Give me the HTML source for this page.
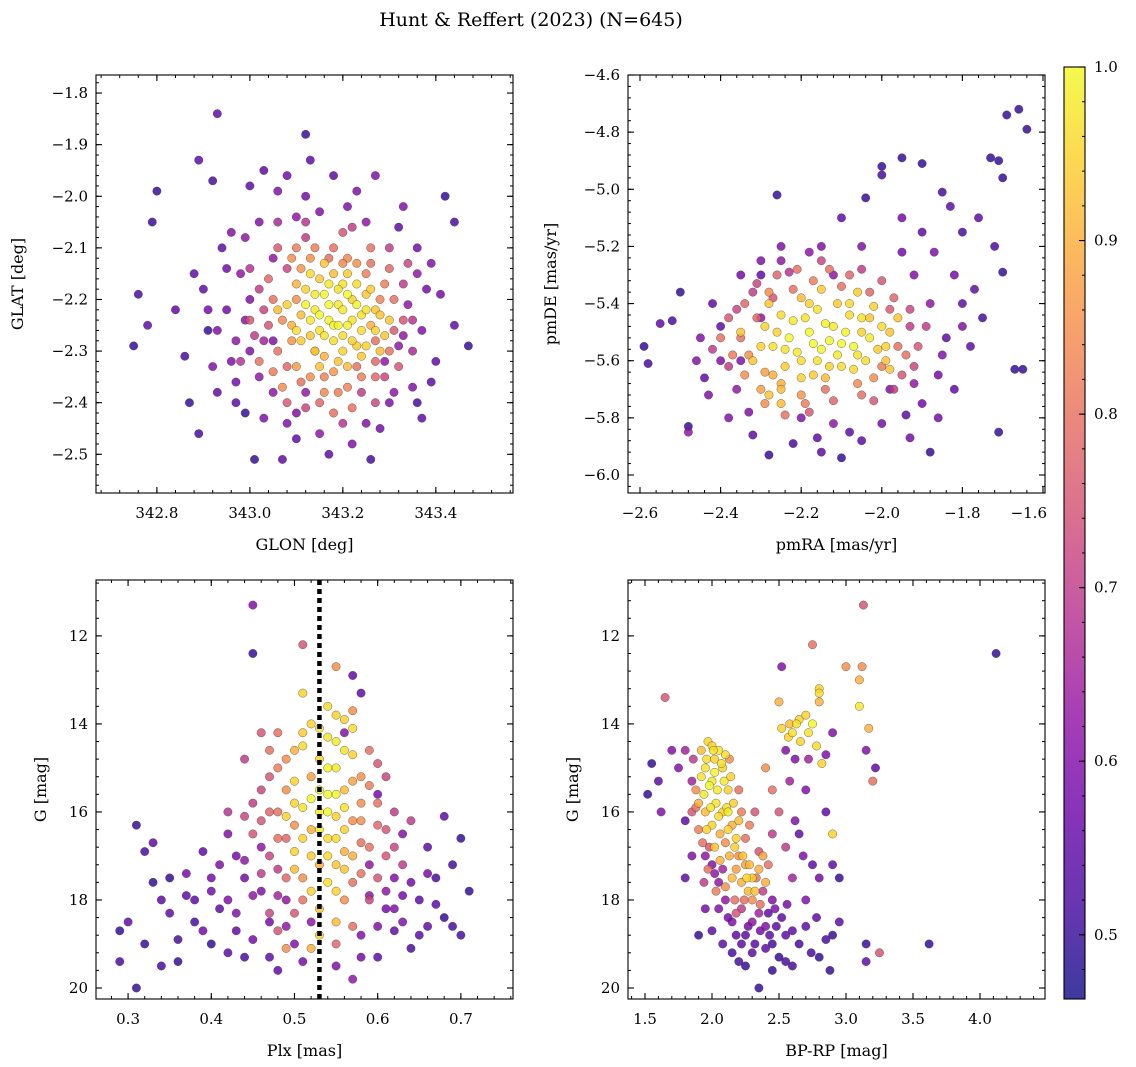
<!DOCTYPE html>
<html><head><meta charset="utf-8"><style>
html,body{margin:0;padding:0;background:#fff;}
svg{display:block;font-family:"DejaVu Serif","Liberation Serif",serif;}
</style></head><body>
<svg id="fig" width="1136" height="1067" viewBox="0 0 1136 1067" xmlns="http://www.w3.org/2000/svg">
<defs>
<linearGradient id="plasma" x1="0" y1="1" x2="0" y2="0">
<stop offset="0" stop-color="#0d0887"/><stop offset="0.1" stop-color="#41049d"/><stop offset="0.2" stop-color="#6a00a8"/><stop offset="0.3" stop-color="#8f0da4"/><stop offset="0.4" stop-color="#b12a90"/><stop offset="0.5" stop-color="#cc4778"/><stop offset="0.6" stop-color="#e16462"/><stop offset="0.7" stop-color="#f2844b"/><stop offset="0.8" stop-color="#fca636"/><stop offset="0.9" stop-color="#fcce25"/><stop offset="1" stop-color="#f0f921"/>
</linearGradient>
</defs>
<text x="531" y="26" text-anchor="middle" font-size="19">Hunt &amp; Reffert (2023) (N=645)</text>
</svg>
<script>
// ---------- data: [x, y, membership probability] ----------
const stars1a = [[342.75,-2.29,.5],[342.76,-2.19,.52],[342.78,-2.25,.55],[342.79,-2.05,.5],[342.80,-1.99,.5],[342.84,-2.22,.55],[342.86,-2.31,.52],[342.87,-2.40,.5],[342.89,-2.46,.52],[342.89,-1.93,.55],[342.93,-1.84,.55],[342.92,-1.97,.52],[342.96,-2.07,.6],[342.99,-2.42,.5],[343.01,-2.51,.5],[343.07,-2.51,.55],[343.12,-1.88,.5],[343.13,-1.93,.55],[343.26,-2.51,.52],[343.37,-2.43,.55],[343.42,-2.00,.5],[343.44,-2.05,.52],[343.47,-2.29,.5],[343.44,-2.25,.55],[343.39,-2.13,.6],[343.39,-2.36,.55],[343.36,-2.40,.52],[343.27,-1.96,.6],[343.18,-1.96,.55],[343.06,-1.99,.6],[343.03,-1.95,.55],[342.97,-2.36,.58],[342.91,-2.26,.5],[342.88,-2.15,.55],[342.92,-2.33,.6],[342.95,-2.22,.58],[343.00,-2.30,.6],[342.98,-2.15,.62],[343.02,-2.05,.6],[343.08,-2.44,.6],[343.15,-2.46,.62],[343.22,-2.48,.6],[343.30,-2.40,.6],[343.34,-2.21,.62],[343.36,-2.10,.58],[343.33,-2.02,.6],[343.25,-2.05,.62],[343.10,-2.04,.62],[343.15,-2.03,.6],[343.29,-2.32,.62],[343.05,-2.38,.62],[342.94,-2.10,.55],[343.00,-2.20,.6],[342.97,-2.28,.62],[343.32,-2.29,.62],[343.38,-2.18,.58],[343.05,-2.12,.62],[343.12,-2.38,.62],
[343.02,-2.18,.7],[343.04,-2.25,.75],[343.06,-2.30,.8],[343.08,-2.14,.72],[343.08,-2.33,.78],[343.10,-2.10,.82],[343.11,-2.36,.8],[343.13,-2.12,.85],[343.14,-2.30,.8],[343.16,-2.35,.83],[343.18,-2.10,.8],[343.19,-2.38,.82],[343.21,-2.12,.84],[343.23,-2.33,.8],[343.25,-2.15,.82],[343.27,-2.28,.8],[343.28,-2.20,.83],[343.30,-2.14,.78],[343.31,-2.26,.76],[343.33,-2.17,.7],[343.05,-2.20,.8],[343.07,-2.24,.84],[343.09,-2.28,.86],[343.12,-2.08,.7],[343.20,-2.07,.75],[343.24,-2.38,.7],[343.12,-2.41,.72],[343.03,-2.28,.65],[343.35,-2.24,.68],[343.15,-2.40,.78],[343.22,-2.41,.8],[343.29,-2.35,.72],[343.00,-2.14,.68],[343.26,-2.10,.8],[343.10,-2.20,.85],[343.27,-2.32,.78],
[343.12,-2.18,.95],[343.14,-2.22,.98],[343.15,-2.26,.97],[343.16,-2.19,1],[343.17,-2.24,.99],[343.18,-2.28,.96],[343.19,-2.21,.98],[343.20,-2.17,.97],[343.21,-2.25,.99],[343.22,-2.20,.95],[343.23,-2.29,.94],[343.24,-2.23,.97],[343.13,-2.27,.93],[343.11,-2.23,.92],[343.25,-2.19,.93],[343.18,-2.15,.92],[343.20,-2.30,.95],[343.16,-2.31,.9],[343.26,-2.25,.9],[343.10,-2.17,.9],[343.27,-2.22,.93],[343.15,-2.16,.94],[343.19,-2.25,1],[343.23,-2.17,.96],[343.21,-2.33,.92],[343.09,-2.25,.9],[343.14,-2.30,.95]];
const stars1b = [[343.08,-2.21,.95],[343.10,-2.26,.97],[343.12,-2.21,.99],[343.13,-2.15,.96],[343.14,-2.19,.98],[343.15,-2.23,1],[343.16,-2.27,.97],[343.17,-2.17,.98],[343.17,-2.21,1],[343.18,-2.25,.99],[343.19,-2.18,.97],[343.20,-2.22,.98],[343.20,-2.27,.96],[343.21,-2.19,1],[343.22,-2.24,.97],[343.22,-2.28,.95],[343.23,-2.21,.99],[343.24,-2.26,.96],[343.25,-2.22,.97],[343.25,-2.29,.95],[343.26,-2.18,.94],[343.27,-2.26,.95],[343.28,-2.23,.93],[343.29,-2.27,.93],[343.13,-2.24,.98],[343.11,-2.28,.94],[343.16,-2.13,.93],[343.19,-2.32,.93],[343.24,-2.31,.94],[343.28,-2.30,.92],[343.30,-2.24,.93],[343.06,-2.22,.92],[343.15,-2.33,.93],[343.21,-2.15,.94],
[343.00,-2.24,.75],[343.02,-2.32,.8],[343.04,-2.16,.78],[343.05,-2.34,.82],[343.06,-2.10,.76],[343.07,-2.37,.85],[343.09,-2.12,.85],[343.10,-2.33,.87],[343.11,-2.14,.86],[343.13,-2.35,.85],[343.14,-2.10,.82],[343.16,-2.38,.84],[343.17,-2.12,.8],[343.18,-2.34,.86],[343.20,-2.13,.84],[343.21,-2.37,.83],[343.23,-2.13,.85],[343.24,-2.35,.82],[343.26,-2.13,.8],[343.27,-2.35,.78],[343.29,-2.17,.82],[343.30,-2.30,.8],[343.31,-2.20,.8],[343.32,-2.33,.75],[343.33,-2.24,.75],[343.34,-2.13,.72],[343.03,-2.22,.72],[343.01,-2.27,.7],[343.08,-2.40,.76],[343.18,-2.42,.8],[343.27,-2.40,.72],[343.12,-2.05,.68],[343.22,-2.06,.7],[343.30,-2.10,.7],[342.98,-2.32,.68],[343.35,-2.30,.66],[343.06,-2.05,.66],[343.20,-2.44,.68],
[342.90,-2.18,.55],[342.93,-2.26,.6],[342.95,-2.14,.58],[342.97,-2.40,.55],[342.99,-2.08,.62],[343.00,-1.98,.55],[343.03,-2.43,.6],[343.08,-1.96,.58],[343.10,-2.47,.55],[343.17,-2.50,.55],[343.23,-1.99,.6],[343.28,-2.45,.58],[343.32,-2.06,.55],[343.37,-2.26,.6],[343.40,-2.32,.55],[343.41,-2.19,.58],[343.35,-2.37,.6],[342.93,-2.38,.55],[342.96,-2.32,.6],[343.02,-2.35,.62],[343.31,-2.38,.62],[343.36,-2.15,.62],[342.99,-2.24,.62],[343.05,-2.28,.6],[343.33,-2.27,.62],[343.12,-2.00,.58],[343.21,-2.02,.6],[343.10,-2.42,.6],[343.25,-2.44,.6],[342.91,-2.22,.58]];
const stars2a = [[-2.59,-5.55,.5],[-2.58,-5.61,.52],[-2.55,-5.47,.55],[-2.50,-5.36,.5],[-2.52,-5.46,.52],[-2.48,-5.83,.5],[-2.48,-5.85,.62],[-2.44,-5.66,.55],[-2.43,-5.72,.6],[-2.40,-5.48,.55],[-2.35,-5.60,.6],[-2.33,-5.78,.6],[-2.30,-5.30,.55],[-2.28,-5.93,.5],[-2.26,-5.02,.5],[-2.22,-5.89,.52],[-2.16,-5.87,.55],[-2.10,-5.94,.5],[-2.08,-5.85,.55],[-2.04,-5.03,.5],[-2.00,-4.95,.52],[-2.00,-4.92,.5],[-1.95,-4.89,.5],[-1.90,-4.91,.5],[-1.85,-5.01,.52],[-1.83,-5.06,.55],[-1.80,-5.15,.52],[-1.76,-5.10,.55],[-1.73,-4.89,.5],[-1.71,-4.90,.5],[-1.69,-4.74,.5],[-1.66,-4.72,.5],[-1.64,-4.79,.5],[-1.70,-4.96,.5],[-1.72,-5.20,.52],[-1.70,-5.29,.5],[-1.67,-5.63,.5],[-1.65,-5.63,.5],[-1.71,-5.85,.5],[-1.88,-5.92,.5],[-1.93,-5.87,.58],[-1.94,-5.79,.55],[-1.84,-5.52,.55],[-1.80,-5.40,.55],[-1.75,-5.45,.52],[-1.90,-5.15,.55],[-1.95,-5.22,.58],[-2.10,-5.10,.55],[-2.15,-5.20,.6],[-2.25,-5.25,.62],[-2.40,-5.60,.6],[-2.36,-5.70,.62],[-2.20,-5.80,.6],[-2.00,-5.82,.58],[-1.98,-5.70,.6],[-1.86,-5.65,.58],[-2.30,-5.45,.62],[-2.12,-5.30,.62],[-1.82,-5.30,.58],
[-2.35,-5.52,.8],[-2.33,-5.58,.85],[-2.31,-5.45,.78],[-2.29,-5.64,.88],[-2.27,-5.38,.75],[-2.25,-5.68,.9],[-2.22,-5.35,.8],[-2.20,-5.72,.86],[-2.17,-5.32,.82],[-2.14,-5.70,.8],[-2.10,-5.34,.8],[-2.06,-5.68,.84],[-2.03,-5.36,.78],[-2.00,-5.62,.82],[-1.98,-5.42,.76],[-1.96,-5.55,.8],[-1.93,-5.48,.7],[-1.92,-5.62,.72],[-2.38,-5.62,.7],[-2.30,-5.70,.88],[-2.25,-5.75,.92],[-2.27,-5.65,.9],[-2.18,-5.78,.75],[-2.32,-5.36,.7],[-2.05,-5.28,.7],[-2.15,-5.25,.72],[-2.23,-5.29,.68],[-1.97,-5.70,.7],[-2.36,-5.42,.72],[-2.02,-5.74,.75],
[-2.26,-5.50,.95],[-2.24,-5.56,.97],[-2.22,-5.46,.98],[-2.20,-5.60,.96],[-2.18,-5.50,1],[-2.16,-5.42,.97],[-2.15,-5.56,.99],[-2.13,-5.62,.95],[-2.12,-5.48,.98],[-2.10,-5.54,1],[-2.08,-5.44,.96],[-2.06,-5.58,.97],[-2.05,-5.50,.95],[-2.03,-5.45,.93],[-2.01,-5.56,.94],[-1.99,-5.60,.93],[-2.28,-5.40,.93],[-2.20,-5.38,.92],[-2.11,-5.40,.94],[-2.14,-5.66,.92],[-2.30,-5.55,.95],[-1.98,-5.50,.93],[-2.07,-5.63,.96],[-2.28,-5.72,.93],[-2.17,-5.65,.94],[-2.35,-5.50,.93]];
const stars2b = [[-2.29,-5.48,.95],[-2.27,-5.55,.97],[-2.25,-5.44,.96],[-2.23,-5.52,1],[-2.21,-5.57,.98],[-2.19,-5.45,.97],[-2.17,-5.54,1],[-2.16,-5.60,.97],[-2.14,-5.47,.99],[-2.13,-5.53,1],[-2.11,-5.58,.98],[-2.09,-5.50,.99],[-2.08,-5.40,.96],[-2.07,-5.55,1],[-2.05,-5.45,.97],[-2.04,-5.60,.96],[-2.03,-5.52,.98],[-2.02,-5.41,.95],[-2.00,-5.48,.96],[-1.99,-5.55,.95],[-1.98,-5.63,.93],[-2.18,-5.40,.95],[-2.15,-5.35,.94],[-2.10,-5.62,.96],[-2.24,-5.62,.94],[-2.32,-5.60,.93],[-2.25,-5.70,.92],[-1.96,-5.45,.93],[-2.06,-5.36,.94],[-2.20,-5.66,.95],
[-2.40,-5.52,.8],[-2.38,-5.45,.75],[-2.37,-5.58,.82],[-2.34,-5.65,.85],[-2.34,-5.40,.78],[-2.31,-5.33,.72],[-2.29,-5.75,.85],[-2.26,-5.30,.78],[-2.24,-5.79,.8],[-2.21,-5.28,.8],[-2.19,-5.75,.82],[-2.13,-5.28,.8],[-2.12,-5.74,.78],[-2.08,-5.30,.78],[-2.05,-5.72,.8],[-2.00,-5.32,.75],[-1.97,-5.38,.78],[-1.95,-5.65,.75],[-1.93,-5.42,.72],[-1.91,-5.55,.75],[-1.89,-5.48,.7],[-2.42,-5.56,.7],[-2.02,-5.66,.85],[-1.94,-5.58,.8],[-2.28,-5.36,.85],
[-2.45,-5.52,.6],[-2.42,-5.40,.55],[-2.38,-5.80,.6],[-2.32,-5.86,.55],[-2.25,-5.20,.6],[-2.18,-5.22,.62],[-2.05,-5.20,.6],[-1.92,-5.30,.6],[-1.88,-5.40,.62],[-1.85,-5.58,.6],[-1.82,-5.70,.55],[-1.78,-5.55,.55],[-1.90,-5.75,.58],[-2.05,-5.88,.55],[-2.15,-5.92,.55],[-2.30,-5.25,.6],[-2.35,-5.30,.58],[-1.95,-5.10,.58],[-1.87,-5.22,.6],[-1.77,-5.35,.55],[-1.92,-5.68,.62],[-2.46,-5.60,.6],[-1.86,-5.80,.58],[-2.12,-5.82,.62],[-1.80,-5.48,.6]];
const stars3a = [[0.29,18.7,.5],[0.29,19.4,.52],[0.30,18.5,.55],[0.31,16.3,.5],[0.31,20.0,.5],[0.32,16.9,.52],[0.33,16.7,.55],[0.33,17.6,.5],[0.32,19.0,.5],[0.34,19.5,.52],[0.35,18.3,.55],[0.35,17.5,.5],[0.37,17.9,.55],[0.38,18.5,.52],[0.36,19.4,.5],[0.39,16.9,.55],[0.40,17.5,.58],[0.40,19.0,.5],[0.41,18.2,.55],[0.42,16.5,.6],[0.43,17.0,.58],[0.43,18.7,.55],[0.44,19.3,.52],[0.45,12.4,.5],[0.45,11.3,.6],[0.46,17.8,.6],[0.47,18.5,.58],[0.48,19.6,.55],[0.49,18.0,.62],[0.50,19.0,.6],[0.55,19.5,.6],[0.57,19.8,.62],[0.58,18.8,.6],[0.60,19.3,.55],[0.61,18.2,.58],[0.62,18.7,.55],[0.63,17.9,.58],[0.64,19.1,.52],[0.65,18.0,.55],[0.66,16.8,.55],[0.67,17.5,.52],[0.68,18.4,.5],[0.69,17.2,.52],[0.70,16.6,.5],[0.71,17.8,.5],[0.70,18.8,.52],[0.68,16.1,.55],[0.66,18.6,.55],[0.63,16.5,.6],[0.59,17.2,.62],[0.57,12.9,.55],[0.58,13.3,.55],[0.56,14.2,.6],[0.60,15.6,.58],[0.62,17.5,.6],[0.52,18.5,.62],[0.44,17.5,.58],[0.46,16.8,.62],[0.51,12.2,.75],[0.55,12.7,.85],[0.57,13.7,.85],
[0.47,15.2,.75],[0.48,16.0,.8],[0.49,15.5,.85],[0.49,16.6,.78],[0.50,14.6,.9],[0.50,16.9,.95],[0.51,13.3,.95],[0.51,15.9,.97],[0.52,14.0,.95],[0.52,16.4,.9],[0.52,15.2,.88],[0.53,14.8,.95],[0.53,17.2,.9],[0.54,14.3,.97],[0.54,15.6,1],[0.54,16.6,.96],[0.55,13.8,.95],[0.55,15.0,.98],[0.55,16.1,.95],[0.55,17.8,.95],[0.56,14.6,.97],[0.56,15.5,.92],[0.56,16.9,.9],[0.57,15.3,.88],[0.57,16.2,.85],[0.58,15.8,.85],[0.58,16.7,.8],[0.59,15.4,.82],[0.60,16.3,.78],[0.61,17.0,.75],[0.46,16.2,.75],[0.47,17.0,.72],[0.48,14.2,.8],[0.50,18.3,.75],[0.51,17.5,.85],[0.53,18.8,.95],[0.52,19.1,.9],[0.49,19.1,.85],[0.53,16.0,.98],[0.50,15.8,.95],[0.44,14.8,.7],[0.45,15.8,.7],[0.54,17.6,.97],[0.56,17.3,.93],[0.58,17.4,.8],[0.48,17.3,.7],[0.60,14.9,.75],[0.62,16.0,.7],[0.42,16.0,.68],[0.47,18.3,.72]];
const stars3b = [[0.50,15.3,.95],[0.51,14.5,.96],[0.51,16.6,.95],[0.52,15.7,1],[0.52,17.0,.94],[0.53,14.1,.97],[0.53,15.5,1],[0.53,16.4,.98],[0.54,13.6,.96],[0.54,15.0,.99],[0.54,16.0,1],[0.54,17.0,.96],[0.55,14.4,.98],[0.55,15.6,.99],[0.55,16.6,.96],[0.56,13.9,.95],[0.56,15.9,.97],[0.56,16.4,.95],[0.57,14.7,.95],[0.57,17.0,.9],[0.52,17.8,.95],[0.53,18.2,.93],[0.55,18.5,.92],[0.51,14.2,.94],[0.49,16.1,.95],[0.57,14.1,.96],[0.55,17.2,.93],[0.50,17.3,.92],
[0.45,16.5,.75],[0.46,15.5,.72],[0.46,17.4,.7],[0.47,16.0,.78],[0.47,14.6,.8],[0.48,16.6,.8],[0.48,15.0,.82],[0.49,17.5,.78],[0.49,14.8,.85],[0.50,16.3,.85],[0.51,18.0,.8],[0.56,18.0,.85],[0.57,17.6,.8],[0.58,16.2,.85],[0.58,15.2,.85],[0.59,16.8,.8],[0.59,14.6,.8],[0.60,17.5,.75],[0.60,15.8,.8],[0.61,16.4,.75],[0.61,15.2,.72],[0.62,16.8,.72],[0.63,17.2,.7],[0.64,16.2,.7],[0.48,18.7,.75],[0.46,14.2,.75],[0.57,18.6,.8],[0.44,16.1,.72],[0.55,19.0,.78],[0.59,18.0,.72],
[0.37,17.4,.58],[0.38,18.0,.55],[0.39,18.7,.58],[0.41,17.2,.6],[0.42,19.2,.55],[0.43,18.3,.6],[0.44,17.1,.62],[0.45,18.9,.58],[0.47,19.3,.55],[0.49,18.6,.62],[0.51,19.4,.58],[0.58,19.3,.58],[0.60,18.6,.6],[0.61,17.8,.62],[0.62,18.2,.6],[0.64,17.6,.58],[0.65,18.8,.55],[0.66,17.4,.58],[0.67,18.1,.55],[0.69,18.6,.52],[0.40,17.8,.58],[0.36,18.9,.52],[0.34,18.0,.55],[0.59,17.9,.62],[0.63,18.5,.6],[0.45,17.9,.62],[0.48,17.9,.65],[0.42,18.0,.6]];
const stars4a = [[1.55,14.9,.5],[1.52,15.6,.5],[1.60,15.3,.55],[1.62,16.0,.6],[1.65,13.4,.75],[1.70,14.6,.6],[1.75,15.0,.6],[1.80,14.6,.65],[1.85,15.3,.65],[1.80,16.2,.55],[1.88,15.5,.85],[1.90,15.8,.9],[1.92,14.6,.92],[1.95,15.0,.97],[1.97,14.4,.95],[2.00,15.3,.98],[2.02,14.8,.95],[2.05,14.6,.97],[2.08,15.0,.95],[2.10,14.7,.96],[2.12,15.5,.95],[1.95,16.0,.92],[2.00,16.3,.95],[2.03,15.8,.97],[2.06,16.5,.9],[2.08,16.0,.95],[2.10,16.7,.85],[2.13,17.0,.9],[2.15,16.3,.9],[2.18,17.3,.88],[2.20,17.0,.85],[2.22,17.6,.9],[2.25,17.2,.88],[2.27,17.8,.92],[2.30,18.0,.85],[2.33,17.5,.8],[2.35,18.3,.65],[2.38,17.8,.7],[2.40,18.6,.6],[2.42,18.3,.55],[2.45,19.0,.52],[2.48,18.6,.55],[2.50,19.3,.5],[2.55,18.8,.55],[2.60,19.5,.52],[2.30,19.2,.55],[2.25,18.8,.55],[2.20,19.4,.52],[2.15,18.5,.6],[2.10,18.0,.62],[2.05,17.6,.62],[2.00,17.2,.6],[1.95,17.0,.62],[1.90,18.8,.5],[2.35,20.0,.5],[2.80,19.3,.5],[2.88,19.6,.5],[2.90,18.8,.5],[2.95,18.5,.55],[2.70,18.0,.6],[2.60,17.5,.65],[2.55,16.8,.7],[2.50,16.0,.75],[2.45,15.5,.8],[2.40,15.0,.85],[2.65,16.5,.55],[2.75,17.2,.55],[2.85,16.0,.55],[2.70,15.5,.6],[2.90,16.5,.95],[2.95,17.5,.5],[3.15,19.0,.5],[3.15,19.4,.55],[3.25,19.2,.75],[3.62,19.0,.5],[2.12,16.0,.98],[2.17,16.8,.95],[2.25,16.6,.8],[2.35,16.9,.75],[2.30,17.5,.95],[2.40,17.6,.9],[2.22,18.2,.7],[2.45,18.0,.6],[2.30,18.5,.62],[1.98,16.8,.75],[2.08,17.3,.65],
[2.50,13.5,.9],[2.52,14.1,.95],[2.57,14.3,.95],[2.60,14.2,.97],[2.63,14.0,.97],[2.66,14.4,.95],[2.70,13.8,.95],[2.72,14.2,.97],[2.75,14.0,1],[2.78,14.5,.96],[2.80,13.3,.96],[2.82,14.9,.95],[2.85,14.7,.6],[2.90,14.2,.6],[3.00,12.7,.85],[3.10,13.0,.9],[3.12,12.7,.85],[3.10,13.6,.98],[3.17,14.1,.9],[3.15,14.6,.6],[3.22,15.0,.55],[3.20,15.3,.8],[3.13,11.3,.75],[2.75,12.2,.8],[4.12,12.4,.5],[2.52,12.7,.6],[2.80,13.2,.95],[2.80,13.5,.9]];
const stars4b = [[1.92,15.2,.97],[1.94,15.6,.98],[1.96,14.8,.96],[1.98,15.4,1],[1.99,15.9,.97],[2.01,14.6,.97],[2.02,15.1,.99],[2.04,15.5,.98],[2.05,16.1,.96],[2.07,14.9,.97],[2.09,15.3,.98],[2.11,15.9,.96],[2.12,16.4,.95],[2.14,15.2,.95],[2.16,15.8,.94],[2.18,16.6,.95],[2.20,16.2,.92],[2.23,17.0,.93],[2.26,17.5,.95],[2.28,17.2,.92],[2.32,17.8,.93],[2.35,17.3,.9],[2.02,16.8,.93],[2.06,17.1,.9],[2.15,17.5,.92],[1.96,16.4,.95],[2.00,14.5,.95],[2.38,17.0,.88],
[1.88,15.9,.8],[1.90,16.4,.82],[1.93,16.7,.8],[1.97,17.3,.8],[2.03,17.8,.82],[2.10,17.7,.85],[2.17,18.0,.8],[2.24,18.0,.8],[2.28,16.3,.82],[2.32,16.0,.75],[2.42,17.2,.8],[2.45,16.5,.7],[1.85,16.0,.75],[1.86,14.8,.7],[1.94,17.6,.7],[2.22,16.0,.82],[2.13,14.8,.85],[2.20,15.5,.8],[2.18,18.3,.75],[2.36,18.1,.8],
[2.05,18.2,.6],[2.12,18.4,.58],[2.18,18.8,.55],[2.22,19.0,.55],[2.27,18.6,.58],[2.32,19.0,.55],[2.36,18.7,.58],[2.40,19.1,.55],[2.43,18.8,.55],[2.47,18.2,.6],[2.52,18.4,.55],[2.56,18.1,.58],[2.60,18.7,.55],[2.65,19.0,.52],[2.70,18.6,.55],[2.74,19.2,.52],[2.78,18.4,.55],[2.85,18.9,.52],[2.15,19.2,.52],[2.25,19.5,.5],[2.45,19.6,.5],[2.55,19.4,.52],[2.00,18.7,.55],[1.95,18.2,.58],[2.08,19.0,.55],[2.62,16.2,.6],[2.68,17.0,.6],[2.80,17.5,.58],[2.58,15.3,.65],[2.90,17.2,.55],[1.85,17.0,.6],[1.80,17.5,.55],[2.02,17.4,.62],
[2.55,14.6,.6],[2.62,14.8,.6],[2.72,14.8,.65],[2.65,13.9,.95],[2.58,14.0,.92]];
const ticks1x=[342.8,343.0,343.2,343.4], ticks1y=[-1.8,-1.9,-2.0,-2.1,-2.2,-2.3,-2.4,-2.5];
const ticks2x=[-2.6,-2.4,-2.2,-2.0,-1.8,-1.6], ticks2y=[-4.6,-4.8,-5.0,-5.2,-5.4,-5.6,-5.8,-6.0];
const ticks3x=[0.3,0.4,0.5,0.6,0.7], ticksGy=[12,14,16,18,20];
const ticks4x=[1.5,2.0,2.5,3.0,3.5,4.0];
const cbarTicks=[0.5,0.6,0.7,0.8,0.9,1.0];
const plxLine=0.53;

const NS="http://www.w3.org/2000/svg";
const svg=document.getElementById('fig');
function mk(tag,attrs,parent){const e=document.createElementNS(NS,tag);for(const k in attrs)e.setAttribute(k,attrs[k]);(parent||svg).appendChild(e);return e;}
const stops=[[0,[13,8,135]],[.1,[65,4,157]],[.2,[106,0,168]],[.3,[143,13,164]],[.4,[177,42,144]],[.5,[204,71,120]],[.6,[225,100,98]],[.7,[242,132,75]],[.8,[252,166,54]],[.9,[252,206,37]],[1,[240,249,33]]];
const VMIN=0.463,VMAX=1.0;
function cmap(p){let t=(p-VMIN)/(VMAX-VMIN);t=Math.max(0,Math.min(1,t));for(let i=1;i<stops.length;i++){if(t<=stops[i][0]){const a=stops[i-1],b=stops[i],f=(t-a[0])/(b[0]-a[0]);const c=a[1].map((v,j)=>Math.round(v+(b[1][j]-v)*f));return `rgb(${c})`;}}return 'rgb(240,249,33)';}
function fmt(v,d){return (v<0?'\u2212':'')+Math.abs(v).toFixed(d);}

function panel(cfg){
  const g=mk('g',{});
  
  
  const {L,R,T,B}=cfg;
  const sx=v=>L+(v-cfg.xd[0])/(cfg.xd[1]-cfg.xd[0])*(R-L);
  const sy=v=>cfg.inv? T+(v-cfg.yd[0])/(cfg.yd[1]-cfg.yd[0])*(B-T) : B-(v-cfg.yd[0])/(cfg.yd[1]-cfg.yd[0])*(B-T);
  const pts=cfg.data.slice().sort((a,b)=>a[2]-b[2]);
  const pg=mk('g',{},g);
  
  
  pts.forEach(d=>{const c=mk('circle',{cx:sx(d[0]),cy:sy(d[1]),r:4.2,fill:cmap(d[2]),'fill-opacity':0.82,stroke:'#333','stroke-width':0.5,'stroke-opacity':0.7},pg);
    
    });
  if(cfg.vline!==undefined){const l=mk('line',{x1:sx(cfg.vline),x2:sx(cfg.vline),y1:T,y2:B,stroke:'#000','stroke-width':4.5,'stroke-dasharray':'5,4'},g);
    
    }
  const xmin=Math.min(...cfg.xd),xmax=Math.max(...cfg.xd),ymin=Math.min(...cfg.yd),ymax=Math.max(...cfg.yd);
  for(let v=Math.ceil(xmin/cfg.xm)*cfg.xm;v<=xmax;v+=cfg.xm){const x=sx(v);mk('line',{x1:x,x2:x,y1:B,y2:B-3,stroke:'#000','stroke-width':1},g);mk('line',{x1:x,x2:x,y1:T,y2:T+3,stroke:'#000','stroke-width':1},g);}
  for(let v=Math.ceil(ymin/cfg.ym)*cfg.ym;v<=ymax;v+=cfg.ym){const y=sy(v);mk('line',{x1:L,x2:L+3,y1:y,y2:y,stroke:'#000','stroke-width':1},g);mk('line',{x1:R,x2:R-3,y1:y,y2:y,stroke:'#000','stroke-width':1},g);}
  cfg.xt.forEach((v,i)=>{const x=sx(v);mk('line',{x1:x,x2:x,y1:B,y2:B-6,stroke:'#000','stroke-width':1.1},g);mk('line',{x1:x,x2:x,y1:T,y2:T+6,stroke:'#000','stroke-width':1.1},g);
    const last=cfg.endLast&&i===cfg.xt.length-1;
    const t=mk('text',{x:last?x+4:x,y:B+25,'text-anchor':last?'end':'middle','font-size':15},g);t.textContent=fmt(v,cfg.xdec);
    
    });
  cfg.yt.forEach(v=>{const y=sy(v);mk('line',{x1:L,x2:L+6,y1:y,y2:y,stroke:'#000','stroke-width':1.1},g);mk('line',{x1:R,x2:R-6,y1:y,y2:y,stroke:'#000','stroke-width':1.1},g);
    const t=mk('text',{x:L-8,y:y+5,'text-anchor':'end','font-size':15},g);t.textContent=fmt(v,cfg.ydec);
    
    });
  const fr=mk('rect',{x:L,y:T,width:R-L,height:B-T,fill:'none',stroke:'#000','stroke-width':1.1},g);
  
  
  const xl=mk('text',{x:(L+R)/2,y:B+57,'text-anchor':'middle','font-size':16},g);xl.textContent=cfg.xlab;
  
  
  const yl=mk('text',{x:0,y:0,'text-anchor':'middle','font-size':16,transform:`translate(${cfg.ylx},${(T+B)/2}) rotate(-90)`},g);yl.textContent=cfg.ylab;
  
  
}
panel({name:'glon-glat-panel',L:96,R:513,T:75,B:493,xd:[342.669,343.566],yd:[-2.575,-1.765],xt:ticks1x,yt:ticks1y,xm:0.04,ym:0.02,xdec:1,ydec:1,data:stars1a.concat(stars1b),xlab:'GLON [deg]',ylab:'GLAT [deg]',ylx:23});
panel({name:'pm-panel',L:628,R:1045,T:75,B:493,xd:[-2.6-12/403,-1.6+2/403],yd:[-6.063,-4.6],xt:ticks2x,yt:ticks2y,xm:0.04,ym:0.04,xdec:1,ydec:1,endLast:true,data:stars2a.concat(stars2b),xlab:'pmRA [mas/yr]',ylab:'pmDE [mas/yr]',ylx:556});
panel({name:'plx-g-panel',L:96,R:513,T:580,B:999,xd:[0.3-32/830,0.7+52/830],yd:[10.73,20.25],inv:true,xt:ticks3x,yt:ticksGy,xm:0.02,ym:0.4,xdec:1,ydec:0,data:stars3a.concat(stars3b),vline:plxLine,xlab:'Plx [mas]',ylab:'G [mag]',ylx:46});
panel({name:'cmd-panel',L:628,R:1045,T:580,B:999,xd:[1.5-17/134,4.0+65/134],yd:[10.73,20.25],inv:true,xt:ticks4x,yt:ticksGy,xm:0.1,ym:0.4,xdec:1,ydec:0,data:stars4a.concat(stars4b),xlab:'BP-RP [mag]',ylab:'G [mag]',ylx:578});
const cb=mk('g',{});


const CT=67,CBm=999,CL=1064,CR=1085;
mk('rect',{x:CL,y:CT,width:CR-CL,height:CBm-CT,fill:'url(#plasma)','fill-opacity':0.8},cb);
mk('rect',{x:CL,y:CT,width:CR-CL,height:CBm-CT,fill:'none',stroke:'#000','stroke-width':1.1},cb);
const cy=v=>CBm-(v-VMIN)/(VMAX-VMIN)*(CBm-CT);
for(let v=0.48;v<=1.0001;v+=0.02){mk('line',{x1:CR,x2:CR-3,y1:cy(v),y2:cy(v),stroke:'#000','stroke-width':1},cb);}
cbarTicks.forEach(v=>{mk('line',{x1:CR,x2:CR-6,y1:cy(v),y2:cy(v),stroke:'#000','stroke-width':1.1},cb);
  const t=mk('text',{x:CR+9,y:cy(v)+5,'font-size':15},cb);t.textContent=v.toFixed(1);
  
  });
</script>
</body></html>
